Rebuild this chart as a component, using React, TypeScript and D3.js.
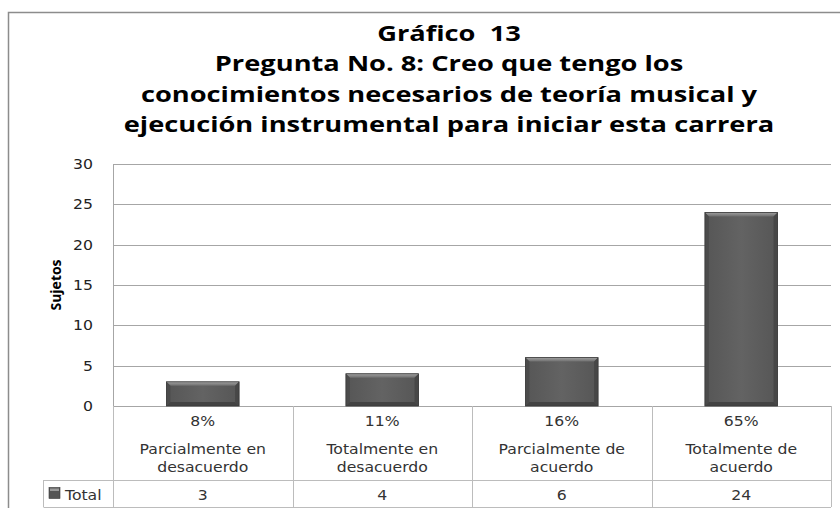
import React from "react";
import * as d3 from "d3";

const titleLines = [
  "Gráfico  13",
  "Pregunta No. 8: Creo que tengo los",
  "conocimientos necesarios de teoría musical y",
  "ejecución instrumental para iniciar esta carrera",
];
const categoryLines = [
  ["Parcialmente en", "desacuerdo"],
  ["Totalmente en", "desacuerdo"],
  ["Parcialmente de", "acuerdo"],
  ["Totalmente de", "acuerdo"],
];
const percents = ["8%", "11%", "16%", "65%"];
const totals = [3, 4, 6, 24];
const yTicks = [0, 5, 10, 15, 20, 25, 30];
const seriesName = "Total";
const yLabel = "Sujetos";

const W = 840;
const H = 508;
const L = 113;
const R = 831;
const T = 164;
const B = 406;

const FONT = "'DejaVu Sans', Verdana, sans-serif";
const SX = 1.08;

function SText(props: { x: number; y: number; anchor?: string; sx?: number; children: React.ReactNode; size?: number; fill?: string }) {
  const { x, y, anchor = "middle", sx = SX, children, size = 14.5, fill = "#333" } = props;
  return (
    <text
      transform={`translate(${x},${y}) scale(${sx},1)`}
      textAnchor={anchor}
      fontFamily={FONT}
      fontSize={size}
      fill={fill}
    >
      {children}
    </text>
  );
}

export default function App() {
  const keys = categoryLines.map((_, i) => String(i));
  const x = d3.scaleBand<string>().domain(keys).range([L, R]).paddingInner(0).paddingOuter(0);
  const y = d3.scaleLinear().domain([0, 30]).range([B, T]);
  const bw = x.bandwidth() * 0.405;
  const bev = 4;
  const gridColor = "#a6a6a6";
  const tableColor = "#bcbcbc";
  const row1 = 480;
  const row2 = 507;

  return (
    <svg width={W} height={H} style={{ position: "absolute", left: 0, top: 0 }}>
      <defs>
        <linearGradient id="topBev" x1="0" y1="0" x2="0" y2="1">
          <stop offset="0" stopColor="#a0a0a0" />
          <stop offset="1" stopColor="#6e6e6e" />
        </linearGradient>
        <linearGradient id="body" x1="0" y1="0" x2="1" y2="0">
          <stop offset="0" stopColor="#565656" />
          <stop offset="0.5" stopColor="#636363" />
          <stop offset="1" stopColor="#565656" />
        </linearGradient>
      </defs>
      <rect x={0} y={0} width={W} height={H} fill="#fff" />
      <path d={`M8.5,${H} V12.5 H${W}`} fill="none" stroke="#8c8c8c" strokeWidth={1.5} />

      {/* title */}
      {titleLines.map((t, i) => (
        <text
          key={i}
          transform={`translate(449,${41 + i * 30.4}) scale(1.33,1)`}
          textAnchor="middle"
          fontFamily="'Open Sans', sans-serif"
          fontWeight={700}
          fontSize={20.5}
          fill="#000"
          style={{ whiteSpace: "pre" }}
        >
          {t}
        </text>
      ))}

      {/* gridlines */}
      {yTicks.map((v) => (
        <line key={v} x1={L} x2={R} y1={Math.round(y(v)) + 0.5} y2={Math.round(y(v)) + 0.5} stroke={gridColor} strokeWidth={1} />
      ))}
      <line x1={L + 0.5} x2={L + 0.5} y1={T} y2={B} stroke={gridColor} />

      {/* y ticks */}
      {yTicks.map((v) => (
        <SText key={v} x={93} y={y(v) + 5} anchor="end" fill="#222">
          {v}
        </SText>
      ))}
      <text
        transform={`translate(61,285) rotate(-90)`}
        textAnchor="middle"
        fontFamily="'Open Sans', sans-serif"
        fontWeight={700}
        fontSize={14}
        fill="#000"
      >
        {yLabel}
      </text>

      {/* bars */}
      {totals.map((v, i) => {
        const cx = (x(String(i)) as number) + x.bandwidth() / 2;
        const x0 = cx - bw / 2;
        const x1 = cx + bw / 2;
        const y0 = y(v);
        const y1 = y(0);
        return (
          <g key={i}>
            <rect x={x0} y={y0} width={bw} height={y1 - y0} fill="url(#body)" />
            <polygon points={`${x0},${y0} ${x1},${y0} ${x1 - bev},${y0 + bev} ${x0 + bev},${y0 + bev}`} fill="url(#topBev)" />
            <polygon points={`${x0},${y0} ${x0 + bev},${y0 + bev} ${x0 + bev},${y1 - bev} ${x0},${y1}`} fill="#4b4b4b" />
            <polygon points={`${x1},${y0} ${x1 - bev},${y0 + bev} ${x1 - bev},${y1 - bev} ${x1},${y1}`} fill="#474747" />
            <polygon points={`${x0},${y1} ${x0 + bev},${y1 - bev} ${x1 - bev},${y1 - bev} ${x1},${y1}`} fill="#434343" />
            <rect x={x0} y={y0} width={bw} height={y1 - y0} fill="none" stroke="#3a3a3a" strokeWidth={0.8} />
          </g>
        );
      })}

      {/* data table */}
      <line x1={L + 0.5} x2={L + 0.5} y1={B} y2={row2} stroke={tableColor} />
      {keys.map((k) => {
        const xr = (x(k) as number) + x.bandwidth();
        return <line key={k} x1={Math.round(xr) + 0.5} x2={Math.round(xr) + 0.5} y1={B} y2={row2} stroke={tableColor} />;
      })}
      <line x1={43.5} x2={R} y1={row1 + 0.5} y2={row1 + 0.5} stroke={tableColor} />
      <line x1={43.5} x2={R} y1={row2 + 0.5} y2={row2 + 0.5} stroke={tableColor} />
      <line x1={43.5} x2={43.5} y1={row1} y2={row2} stroke={tableColor} />

      {keys.map((k, i) => {
        const cx = (x(k) as number) + x.bandwidth() / 2;
        return (
          <g key={k}>
            <SText x={cx} y={426}>{percents[i]}</SText>
            <SText x={cx} y={454}>{categoryLines[i][0]}</SText>
            <SText x={cx} y={472}>{categoryLines[i][1]}</SText>
            <SText x={cx} y={500}>{totals[i]}</SText>
          </g>
        );
      })}

      {/* legend key */}
      <rect x={49} y={487.5} width={11} height={11} fill="#555" stroke="#3a3a3a" strokeWidth={0.6} />
      <rect x={50} y={488.5} width={9} height={2.5} fill="#9a9a9a" />
      <SText x={65} y={500} anchor="start">{seriesName}</SText>
    </svg>
  );
}
